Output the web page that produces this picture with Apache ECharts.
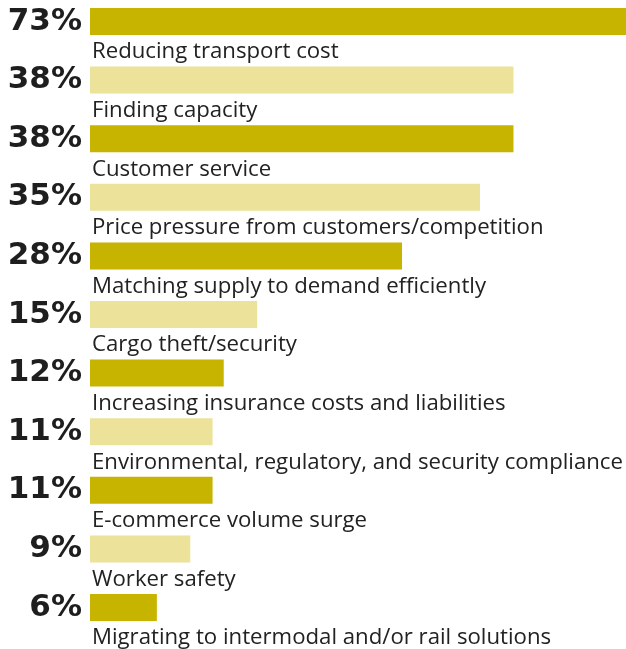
<!DOCTYPE html>
<html><head><meta charset="utf-8">
<script src="https://cdn.jsdelivr.net/npm/echarts@6/dist/echarts.min.js"></script>
<style>html,body{margin:0;padding:0;background:#fff}#c{width:626px;height:649px}</style>
</head><body><div id="c"></div>
<script>
const categories = [
  "Reducing transport cost",
  "Finding capacity",
  "Customer service",
  "Price pressure from customers/competition",
  "Matching supply to demand efficiently",
  "Cargo theft/security",
  "Increasing insurance costs and liabilities",
  "Environmental, regulatory, and security compliance",
  "E-commerce volume surge",
  "Worker safety",
  "Migrating to intermodal and/or rail solutions"
];
const values = [73, 38, 38, 35, 28, 15, 12, 11, 11, 9, 6];
const colors = ["#C6B400", "#ECE29A"];

const chart = echarts.init(document.getElementById('c'), null, {renderer: 'canvas'});
chart.setOption({
  animation: false,
  grid: {left: 90, right: 0, top: -7.8, height: 644.6, containLabel: false, outerBoundsMode: 'none'},
  xAxis: {type: 'value', min: 0, max: 48.1, show: false},
  yAxis: {
    type: 'category', inverse: true, data: categories,
    axisLine: {show: false}, axisTick: {show: false}, splitLine: {show: false},
    axisLabel: {
      margin: 8,
      formatter: (v, i) => values[i] + '%',
      fontFamily: 'DejaVu Sans', fontWeight: 'bold', fontSize: 31, color: '#1e1e1e'
    }
  },
  series: [{
    type: 'bar', barWidth: 27, clip: true,
    data: values.map((v, i) => ({value: v, itemStyle: {color: colors[i % 2]}})),
    label: {
      show: true, position: [2, 44], align: 'left', verticalAlign: 'middle',
      formatter: p => categories[p.dataIndex],
      fontFamily: 'Open Sans', fontSize: 22.2, color: '#222'
    }
  }]
});
</script></body></html>
